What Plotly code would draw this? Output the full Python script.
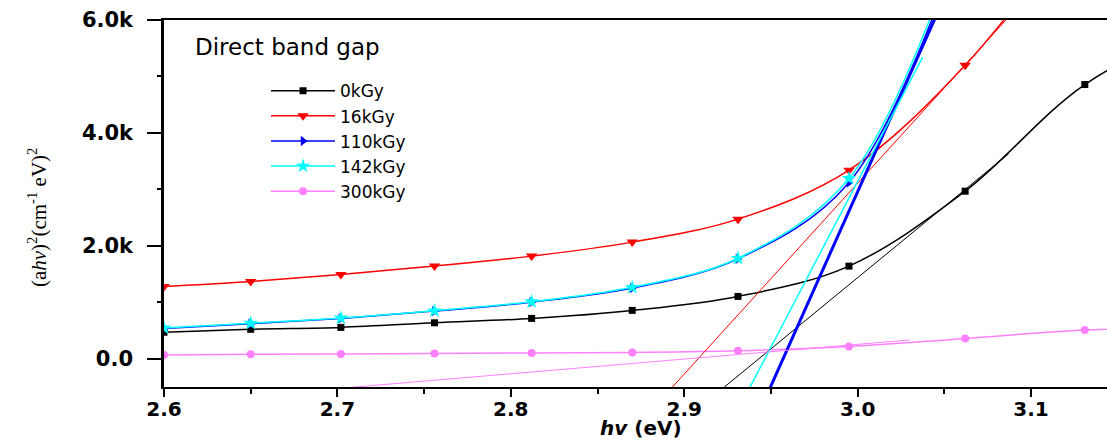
import plotly.graph_objects as go

# Photon energy (eV) of the sampled points
energy = [2.600, 2.650, 2.702, 2.756, 2.812, 2.870, 2.931, 2.995, 3.062, 3.131, 3.204]

# (ahv)^2 values for each irradiation dose
dose_0 = [470, 522, 556, 637, 715, 857, 1104, 1641, 2968, 4857, 6000]
dose_16 = [1280, 1370, 1494, 1641, 1818, 2066, 2473, 3340, 5198, 7900, None]
dose_110 = [538, 620, 715, 844, 1003, 1251, 1770, 3122, 7600, None, None]
dose_142 = [545, 630, 722, 850, 1010, 1265, 1780, 3193, 7700, None, None]
dose_300 = [65, 78, 83, 95, 102, 113, 142, 219, 361, 508, 560]

series_names = ["0kGy", "16kGy", "110kGy", "142kGy", "300kGy"]
series_values = [dose_0, dose_16, dose_110, dose_142, dose_300]

# Linear extrapolation of the absorption edge: y = slope * (E - Eg)
fit_eg = [2.943, 2.908, 2.957, 2.9465, 2.902]
fit_slope = [25200, 33800, 68800, 58700, 2605]
fit_start = [2.90, 2.87, 2.94, 2.92, 2.69]
fit_end = [3.087, 3.09, 3.05, 3.0375, 3.03]

# Axis ticks
x_tick_vals = [2.6, 2.7, 2.8, 2.9, 3.0, 3.1]
x_tick_text = ["2.6", "2.7", "2.8", "2.9", "3.0", "3.1"]
y_tick_vals = [0, 2000, 4000, 6000]
y_tick_text = ["0.0", "2.0k", "4.0k", "6.0k"]

colors = ["#000000", "#FF0000", "#0000FF", "#00FFFF", "#FF80FF"]
symbols = ["square", "triangle-down", "triangle-right", "star", "circle"]
marker_sizes = [7, 10, 9, 11, 8]
fit_widths = [1, 1, 3, 1.5, 1]

fig = go.Figure()

for name, vals, col, sym, ms in zip(series_names, series_values, colors, symbols, marker_sizes):
    fig.add_trace(go.Scatter(
        x=energy, y=vals, name=name, mode="lines+markers",
        line=dict(color=col, width=1.5, shape="spline"),
        marker=dict(symbol=sym, size=ms, color=col, line=dict(width=0)),
    ))

for eg, k, x0, x1, col, w in zip(fit_eg, fit_slope, fit_start, fit_end, colors, fit_widths):
    xs = [x0, x1]
    fig.add_trace(go.Scatter(
        x=xs, y=[k * (x - eg) for x in xs], mode="lines",
        line=dict(color=col, width=w), showlegend=False, hoverinfo="skip",
    ))

tick_font = dict(family="DejaVu Sans", size=20, color="black", weight="bold")

fig.update_layout(
    width=1107, height=442,
    margin=dict(l=164, r=0, t=20, b=55),
    paper_bgcolor="white", plot_bgcolor="white",
    showlegend=True,
    legend=dict(
        x=0.1082, y=0.855, xanchor="left", yanchor="top",
        bgcolor="rgba(0,0,0,0)", borderwidth=0,
        font=dict(family="DejaVu Sans", size=17, color="black"),
        itemwidth=64, tracegroupgap=0,
    ),
    xaxis=dict(
        range=[2.6, 3.1438], showgrid=False, zeroline=False,
        showline=True, linecolor="black", linewidth=2, mirror=True,
        ticks="outside", ticklen=8, tickwidth=2, tickcolor="black",
        tickvals=x_tick_vals, ticktext=x_tick_text, tickfont=tick_font,
        ticklabelstandoff=-5,
        minor=dict(dtick=0.05, ticks="outside", ticklen=5, tickwidth=2, tickcolor="black"),
    ),
    yaxis=dict(
        range=[-500, 6000], showgrid=False, zeroline=False,
        showline=True, linecolor="black", linewidth=2.5, mirror=False,
        ticks="outside", ticklen=14, tickwidth=2, tickcolor="black",
        tickvals=y_tick_vals, ticktext=y_tick_text,
        tickfont=dict(family="DejaVu Sans", size=21, color="black", weight="bold"),
        ticklabelstandoff=10,
        minor=dict(dtick=1000, ticks="outside", ticklen=4, tickwidth=2, tickcolor="black"),
    ),
    annotations=[
        dict(text="Direct band gap", xref="paper", yref="paper", x=0.0308, y=0.926,
             xanchor="left", yanchor="middle", showarrow=False,
             font=dict(family="DejaVu Sans", size=23, color="black")),
        dict(text="(a<i>hv</i>)<sup>2</sup>(cm<sup>-1</sup> eV)<sup>2</sup>",
             xref="paper", yref="paper", x=-0.1347, y=0.463, textangle=-90,
             xanchor="center", yanchor="middle", showarrow=False,
             font=dict(family="Liberation Serif", size=21, color="black")),
        dict(text="<i>hv</i> (eV)", xref="paper", yref="paper", x=0.5058, y=-0.1499,
             xanchor="center", yanchor="bottom", showarrow=False,
             font=dict(family="DejaVu Sans", size=20, color="black", weight="bold")),
    ],
)

fig.write_html("out.html")
